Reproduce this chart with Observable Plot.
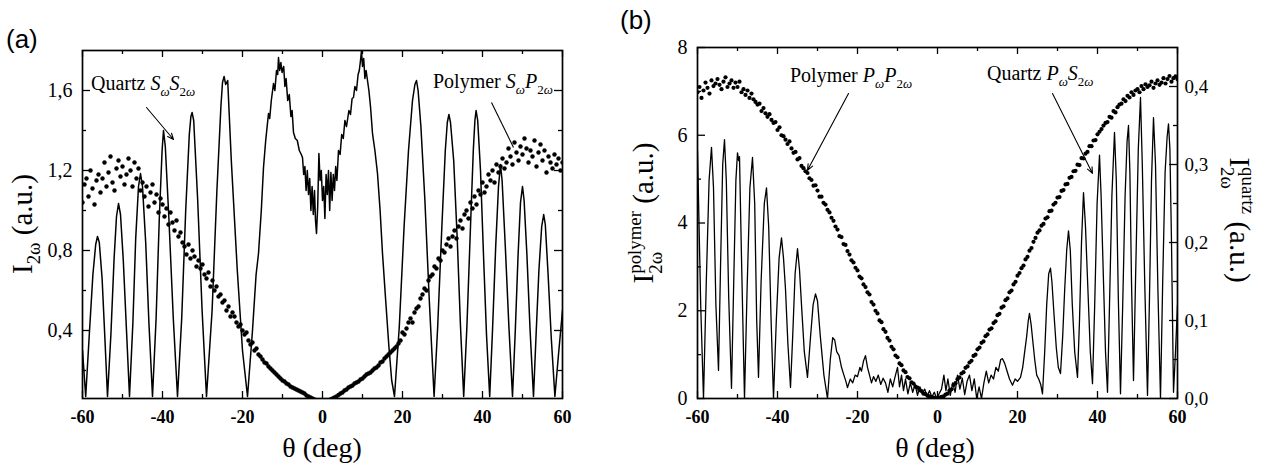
<!DOCTYPE html>
<html><head><meta charset="utf-8">
<script src="https://cdn.jsdelivr.net/npm/d3@7"></script>
<script src="https://cdn.jsdelivr.net/npm/@observablehq/plot@0.6"></script>
<style>
body{margin:0;background:#fff;}
#wrap{position:relative;width:1275px;height:473px;display:flex;background:#fff;}
#wrap svg{flex:0 0 auto;display:block;}
</style></head><body><div id="wrap"></div>
<script>
// ---------------- DATA ----------------
// common scan angles (deg) for the polymer dot series
const scanAngle = [
-60,-59.5,-59,-58.5,-58,-57.5,-57,-56.5,-56,-55.5,
-55,-54.5,-54,-53.5,-53,-52.5,-52,-51.5,-51,-50.5,
-50,-49.5,-49,-48.5,-48,-47.5,-47,-46.5,-46,-45.5,
-45,-44.5,-44,-43.5,-43,-42.5,-42,-41.5,-41,-40.5,
-40,-39.5,-39,-38.5,-38,-37.5,-37,-36.5,-36,-35.5,
-35,-34.5,-34,-33.5,-33,-32.5,-32,-31.5,-31,-30.5,
-30,-29.5,-29,-28.5,-28,-27.5,-27,-26.5,-26,-25.5,
-25,-24.5,-24,-23.5,-23,-22.5,-22,-21.5,-21,-20.5,
-20,-19.5,-19,-18.5,-18,-17.5,-17,-16.5,-16,-15.5,
-15,-14.5,-14,-13.5,-13,-12.5,-12,-11.5,-11,-10.5,
-10,-9.5,-9,-8.5,-8,-7.5,-7,-6.5,-6,-5.5,
-5,-4.5,-4,-3.5,-3,-2.5,-2,-1.5,-1,-0.5,
0,0.5,1,1.5,2,2.5,3,3.5,4,4.5,
5,5.5,6,6.5,7,7.5,8,8.5,9,9.5,
10,10.5,11,11.5,12,12.5,13,13.5,14,14.5,
15,15.5,16,16.5,17,17.5,18,18.5,19,19.5,
20,20.5,21,21.5,22,22.5,23,23.5,24,24.5,
25,25.5,26,26.5,27,27.5,28,28.5,29,29.5,
30,30.5,31,31.5,32,32.5,33,33.5,34,34.5,
35,35.5,36,36.5,37,37.5,38,38.5,39,39.5,
40,40.5,41,41.5,42,42.5,43,43.5,44,44.5,
45,45.5,46,46.5,47,47.5,48,48.5,49,49.5,
50,50.5,51,51.5,52,52.5,53,53.5,54,54.5,
55,55.5,56,56.5,57,57.5,58,58.5,59,59.5,
60];

// (a) Polymer S_w P_2w  (I_2w, a.u.)
const polymerSP = [
1.04,1.13,1.16,1.07,1.20,1.11,1.03,1.15,1.18,1.09,
1.16,1.24,1.12,1.19,1.27,1.14,1.10,1.21,1.25,1.17,
1.22,1.13,1.18,1.26,1.20,1.12,1.24,1.16,1.21,1.10,
1.14,1.07,1.12,1.02,1.09,1.13,1.04,1.08,0.99,1.06,
1.03,0.97,1.01,0.93,0.99,0.94,0.90,0.95,0.87,0.89,
0.84,0.82,0.78,0.83,0.76,0.80,0.77,0.72,0.75,0.71,
0.73,0.68,0.66,0.69,0.62,0.65,0.60,0.62,0.57,0.58,
0.54,0.55,0.50,0.52,0.47,0.49,0.47,0.44,0.42,0.43,
0.40,0.38,0.39,0.35,0.33,0.34,0.30,0.31,0.28,0.27,
0.255,0.24,0.235,0.22,0.21,0.20,0.19,0.18,0.17,0.16,
0.15,0.145,0.135,0.13,0.12,0.115,0.11,0.105,0.10,0.095,
0.09,0.085,0.075,0.07,0.065,0.06,0.055,0.05,0.048,0.045,
0.04,0.042,0.045,0.05,0.055,0.06,0.065,0.07,0.078,0.085,
0.09,0.10,0.105,0.115,0.12,0.125,0.135,0.14,0.145,0.155,
0.16,0.17,0.18,0.185,0.19,0.20,0.21,0.215,0.225,0.24,
0.245,0.26,0.27,0.28,0.29,0.30,0.31,0.32,0.335,0.35,
0.39,0.38,0.41,0.44,0.46,0.44,0.49,0.51,0.52,0.56,
0.58,0.61,0.60,0.65,0.67,0.68,0.72,0.71,0.76,0.75,
0.80,0.79,0.83,0.86,0.82,0.87,0.90,0.86,0.92,0.95,
0.91,0.98,1.00,0.96,1.04,1.01,1.07,1.03,1.10,1.08,
1.14,1.09,1.12,1.18,1.15,1.20,1.14,1.23,1.19,1.22,
1.26,1.21,1.24,1.31,1.27,1.23,1.34,1.29,1.25,1.32,
1.28,1.36,1.31,1.24,1.30,1.27,1.35,1.22,1.29,1.33,
1.25,1.30,1.19,1.27,1.24,1.21,1.28,1.23,1.26,1.20,
1.24];

// (b) Polymer P_w P_2w  (I_2w^polymer, a.u.)
const polymerPP = [
6.98,7.10,6.85,7.02,7.20,7.08,6.95,7.25,7.12,7.18,
7.28,7.15,7.05,7.22,7.32,7.10,7.18,7.25,7.08,7.20,
7.10,7.22,6.98,7.05,6.92,7.02,6.85,6.95,6.82,6.76,
6.70,6.72,6.55,6.62,6.50,6.42,6.48,6.35,6.28,6.30,
6.12,6.18,6.00,5.98,5.90,5.80,5.86,5.70,5.60,5.62,
5.45,5.48,5.30,5.25,5.18,5.14,5.02,4.98,4.85,4.86,
4.74,4.60,4.60,4.46,4.42,4.30,4.24,4.12,4.05,3.92,
3.85,3.70,3.68,3.52,3.50,3.36,3.28,3.15,3.10,2.98,
2.92,2.78,2.74,2.60,2.54,2.42,2.37,2.20,2.14,2.00,
1.94,1.78,1.74,1.58,1.52,1.38,1.32,1.18,1.12,0.98,
0.94,0.80,0.76,0.64,0.60,0.49,0.46,0.37,0.34,0.27,
0.25,0.19,0.17,0.11,0.10,0.06,0.05,0.03,0.02,0.01,
0.00,0.02,0.04,0.05,0.09,0.11,0.18,0.21,0.31,0.35,
0.44,0.48,0.57,0.60,0.70,0.73,0.82,0.86,0.97,1.00,
1.12,1.16,1.27,1.30,1.42,1.46,1.57,1.60,1.72,1.76,
1.90,1.93,2.07,2.10,2.24,2.28,2.42,2.46,2.60,2.66,
2.80,2.86,2.97,3.03,3.17,3.23,3.37,3.43,3.57,3.66,
3.78,3.83,3.94,3.98,4.10,4.13,4.27,4.28,4.42,4.46,
4.58,4.59,4.73,4.75,4.88,4.89,5.03,5.05,5.18,5.19,
5.33,5.32,5.48,5.47,5.58,5.62,5.75,5.75,5.88,5.89,
6.02,6.08,6.14,6.22,6.28,6.30,6.42,6.40,6.55,6.52,
6.64,6.70,6.72,6.82,6.78,6.90,6.86,6.98,6.92,7.02,
7.05,6.98,7.12,7.05,7.16,7.10,7.14,7.22,7.08,7.18,
7.25,7.15,7.20,7.30,7.18,7.28,7.35,7.22,7.30,7.34,
7.28];

// (a) Quartz S_w S_2w fringes: [theta, I_2w]
const quartzSS = [
[-60,0.30],[-59.2,0.07],[-58.3,0.38],[-57.4,0.68],[-56.7,0.83],[-56.25,0.87],[-55.8,0.84],[-55.1,0.66],[-54.4,0.36],[-53.75,0.07],
[-52.9,0.38],[-52.1,0.76],[-51.5,0.97],[-51.0,1.035],[-50.5,0.98],[-49.8,0.75],[-49.0,0.40],[-48.25,0.07],
[-47.4,0.44],[-46.7,0.86],[-46.0,1.12],[-45.5,1.185],[-45.0,1.12],[-44.2,0.84],[-43.4,0.44],[-42.5,0.07],
[-41.6,0.46],[-40.8,0.96],[-40.1,1.30],[-39.75,1.40],[-39.3,1.32],[-38.4,0.96],[-37.3,0.46],[-36.25,0.07],
[-35.2,0.46],[-34.2,1.00],[-33.3,1.38],[-32.9,1.47],[-32.6,1.49],[-32.2,1.45],[-31.2,1.05],[-30.1,0.50],[-29.0,0.07],
[-27.6,0.50],[-26.4,1.10],[-25.4,1.52],[-25.0,1.64],[-24.6,1.67],[-24.2,1.63],[-23.7,1.65],[-22.8,1.25],[-21.3,0.70],[-20.0,0.30],[-18.75,0.07],
[-17.5,0.40],[-16.6,0.68],[-16.0,0.785],[-15.3,1.00],[-14.75,1.215],[-14.2,1.35],[-13.5,1.485],[-13.2,1.46],[-12.8,1.55],[-12.25,1.635],
[-11.9,1.60],[-11.5,1.70],[-11.2,1.68],[-11.0,1.765],[-10.7,1.70],[-10.4,1.74],[-10.1,1.69],[-9.7,1.72],[-9.4,1.62],[-9.1,1.66],
[-8.7,1.55],[-8.3,1.58],[-7.9,1.47],[-7.6,1.50],[-7.25,1.39],[-6.8,1.36],[-6.3,1.35],[-5.8,1.30],[-5.3,1.28],[-5.0,1.265],
[-4.7,1.18],[-4.4,1.22],[-4.1,1.10],[-3.8,1.20],[-3.5,1.08],[-3.2,1.16],[-2.9,1.00],[-2.6,1.12],[-2.3,0.98],[-2.0,1.10],
[-1.75,0.95],[-1.5,0.885],[-1.2,1.02],[-0.9,1.285],[-0.6,1.15],[-0.3,1.20],[0.0,1.05],[0.3,1.12],[0.6,0.96],[0.9,1.18],
[1.2,1.08],[1.5,1.20],[1.8,1.00],[2.1,1.19],[2.4,1.05],[2.7,1.18],[3.0,1.10],[3.3,1.22],[3.6,1.15],[4.0,1.30],
[4.4,1.28],[4.8,1.38],[5.2,1.36],[5.6,1.45],[6.0,1.42],[6.3,1.46],[6.6,1.50],[7.0,1.48],[7.4,1.56],[7.75,1.565],
[8.1,1.62],[8.5,1.60],[8.9,1.68],[9.2,1.70],[9.5,1.75],[9.75,1.80],[10.0,1.72],[10.3,1.76],[10.6,1.66],[10.9,1.70],
[11.25,1.65],[11.6,1.60],[12.0,1.52],[12.5,1.385],[13.1,1.30],[13.75,1.185],[14.4,1.00],[15.0,0.785],[15.8,0.55],[16.6,0.32],[17.3,0.15],[18.0,0.07],
[19.2,0.42],[20.4,0.92],[21.5,1.30],[22.5,1.55],[23.1,1.63],[23.5,1.65],[23.9,1.60],[24.6,1.42],[25.6,1.05],[26.7,0.55],[27.9,0.07],
[28.8,0.42],[29.8,0.90],[30.7,1.30],[31.2,1.44],[31.6,1.48],[32.0,1.44],[32.8,1.25],[33.7,0.85],[34.5,0.42],[35.3,0.07],
[36.1,0.42],[37.0,0.92],[37.7,1.30],[38.1,1.45],[38.4,1.50],[38.8,1.45],[39.5,1.20],[40.3,0.75],[41.0,0.38],[41.8,0.07],
[42.5,0.40],[43.3,0.82],[44.0,1.12],[44.5,1.23],[44.9,1.15],[45.7,0.82],[46.6,0.42],[47.5,0.07],
[48.2,0.40],[48.9,0.78],[49.5,1.04],[50.0,1.12],[50.4,1.05],[51.1,0.78],[51.9,0.40],[52.75,0.07],
[53.4,0.38],[54.1,0.70],[54.8,0.92],[55.3,0.98],[55.7,0.93],[56.4,0.68],[57.2,0.36],[58.1,0.07],
[59.0,0.28],[60.0,0.50]];

// (b) Quartz P_w S_2w fringes: [theta, I_2w^quartz]
const quartzPS = [
[-60,0.318],[-59.2,0.12],[-58.5,0.0],[-57.8,0.15],[-57.1,0.28],[-56.5,0.322],[-56.0,0.27],[-55.4,0.12],[-54.75,0.036],
[-54.2,0.18],[-53.7,0.30],[-53.25,0.332],[-52.8,0.28],[-52.2,0.13],[-51.5,0.013],[-50.9,0.16],[-50.4,0.28],[-50.0,0.315],
[-49.7,0.305],[-49.5,0.31],[-49.0,0.18],[-48.25,0.0],[-47.6,0.14],[-46.9,0.27],[-46.25,0.309],[-45.7,0.25],[-45.2,0.10],
[-44.75,0.027],[-44.1,0.15],[-43.3,0.25],[-42.75,0.27],[-42.2,0.22],[-41.6,0.10],[-41.0,0.0],[-40.3,0.10],[-39.6,0.18],
[-39.0,0.206],[-38.5,0.18],[-38.0,0.14],[-37.4,0.07],[-36.75,0.014],[-36.2,0.08],[-35.6,0.16],[-35.0,0.192],[-34.5,0.165],
[-34.0,0.12],[-33.3,0.06],[-32.5,0.027],[-31.8,0.075],[-31.1,0.12],[-30.5,0.134],[-30.0,0.125],[-29.3,0.08],[-28.4,0.03],
[-27.5,0.0],[-26.8,0.05],[-26.2,0.078],[-25.7,0.075],[-25.2,0.06],[-24.6,0.055],[-24.0,0.04],[-23.4,0.03],[-22.9,0.022],
[-22.5,0.014],[-21.8,0.025],[-21.2,0.02],[-20.6,0.03],[-20.0,0.028],[-19.4,0.04],[-19.0,0.035],[-18.5,0.048],[-18.0,0.055],
[-17.5,0.04],[-17.0,0.03],[-16.5,0.02],[-16.0,0.028],[-15.4,0.022],[-14.8,0.03],[-14.2,0.018],[-13.6,0.026],[-13.0,0.02],
[-12.4,0.008],[-11.8,0.025],[-11.2,0.015],[-10.6,0.028],[-10.0,0.04],[-9.5,0.015],[-9.0,0.03],[-8.5,0.01],[-8.0,0.025],
[-7.4,0.006],[-6.8,0.02],[-6.2,0.008],[-5.6,0.018],[-5.0,0.004],[-4.4,0.015],[-3.8,0.006],[-3.2,0.012],[-2.6,0.003],
[-2.0,0.01],[-1.4,0.002],[-0.8,0.008],[-0.2,0.0],[0.4,0.006],[1.0,0.012],[1.6,0.03],[2.1,0.01],[2.6,0.025],[3.2,0.004],
[3.8,0.02],[4.4,0.008],[5.0,0.03],[5.6,0.012],[6.2,0.026],[6.8,0.005],[7.4,0.022],[8.0,0.03],[8.6,0.01],[9.2,0.025],
[9.8,0.0],[10.4,0.015],[11.0,0.0],[11.6,0.02],[12.2,0.035],[12.8,0.02],[13.4,0.03],[14.0,0.025],[14.6,0.04],[15.2,0.035],
[15.8,0.05],[16.25,0.051],[16.8,0.045],[17.4,0.035],[18.0,0.025],[18.75,0.017],[19.4,0.025],[20.0,0.022],[20.75,0.027],
[21.3,0.04],[21.8,0.06],[22.3,0.08],[22.7,0.10],[23.0,0.109],[23.4,0.095],[23.8,0.075],[24.3,0.05],[24.8,0.03],[25.3,0.025],
[25.8,0.018],[26.25,0.006],[26.8,0.06],[27.3,0.12],[27.8,0.16],[28.25,0.167],[28.6,0.15],[29.1,0.11],[29.7,0.065],[30.2,0.04],
[30.75,0.032],[31.3,0.08],[31.8,0.14],[32.3,0.19],[32.75,0.215],[33.2,0.19],[33.7,0.12],[34.3,0.06],[35.0,0.027],[35.5,0.10],
[36.0,0.20],[36.5,0.264],[37.0,0.22],[37.6,0.14],[38.2,0.06],[38.75,0.019],[39.3,0.12],[39.9,0.25],[40.5,0.312],[40.9,0.26],
[41.5,0.15],[42.0,0.06],[42.5,0.008],[43.0,0.12],[43.6,0.26],[44.25,0.341],[44.7,0.28],[45.2,0.13],[45.75,0.006],[46.3,0.12],
[46.9,0.26],[47.4,0.33],[47.75,0.35],[48.1,0.29],[48.5,0.15],[49.0,0.023],[49.5,0.15],[50.2,0.32],[50.75,0.386],[51.2,0.30],
[51.8,0.15],[52.5,0.004],[53.0,0.13],[53.5,0.28],[54.0,0.36],[54.5,0.30],[55.1,0.14],[55.75,0.0],[56.3,0.15],[56.9,0.29],
[57.4,0.335],[57.75,0.352],[58.1,0.32],[58.5,0.20],[59.0,0.008],[59.5,0.06],[60.0,0.12]];

// axes
const thetaDomain = [-60, 60];
const xMajorTicks = [-60,-40,-20,0,20,40,60];
const xMinorTicks = [-50,-30,-10,10,30,50];
const aYDomain = [0.06, 1.8];
const aYMajorTicks = [0.4,0.8,1.2,1.6];
const aYMinorTicks = [0.2,0.6,1.0,1.4];
const bLeftDomain = [0, 8];
const bLeftMajorTicks = [0,2,4,6,8];
const bLeftMinorTicks = [1,3,5,7];
const bRightDomain = [0, 0.45];
const bRightMajorTicks = [0,0.1,0.2,0.3,0.4];
const bRightMinorTicks = [0.05,0.15,0.25,0.35];

// annotations (data units)
const annA = [
  {x:-57.75, y:1.60, parts:[{t:"Quartz "},{t:"S",i:1},{t:"ω",i:1,sub:1},{t:"S",i:1},{t:"2",sub:1},{t:"ω",i:1,sub:1}]},
  {x:27.75, y:1.61, parts:[{t:"Polymer "},{t:"S",i:1},{t:"ω",i:1,sub:1},{t:"P",i:1},{t:"2",sub:1},{t:"ω",i:1,sub:1}]}
];
const arrowsA = [{x1:-44, y1:1.515, x2:-37.25, y2:1.355}];
const linksA = [{x1:42.25, y1:1.54, x2:47.75, y2:1.315}];
const annB = [
  {x:-36.75, y:7.2, parts:[{t:"Polymer "},{t:"P",i:1},{t:"ω",i:1,sub:1},{t:"P",i:1},{t:"2",sub:1},{t:"ω",i:1,sub:1}]},
  {x:12.5, y:7.25, parts:[{t:"Quartz "},{t:"P",i:1},{t:"ω",i:1,sub:1},{t:"S",i:1},{t:"2",sub:1},{t:"ω",i:1,sub:1}]}
];
const arrowsB = [{x1:-22.25, y1:6.95, x2:-32.5, y2:5.2},{x1:28.75, y1:6.95, x2:38.75, y2:5.13}];

// ---------------- DRAW ----------------
const SERIF = "Liberation Serif, Times New Roman, Times, serif";
const SANS = "Liberation Sans, Arial, Helvetica, sans-serif";
const comma1 = d => d.toFixed(1).replace(".", ",");
const polyAData = scanAngle.map((t,i)=>({t, v: polymerSP[i]}));
const polyBData = scanAngle.map((t,i)=>({t, v: polymerPP[i]}));
const qAData = quartzSS.map(([t,v])=>({t,v}));
const k = bLeftDomain[1] / bRightDomain[1];           // right-axis -> left-axis factor
const qBData = quartzPS.map(([t,q])=>({t, v: q*k}));

const A = {w:620, h:473, top:50, right:58, bottom:75, left:82};
const B = {w:655, h:473, top:47, right:98, bottom:75, left:77};
const aIH = A.h-A.top-A.bottom, aIW = A.w-A.left-A.right;
const bIH = B.h-B.top-B.bottom, bIW = B.w-B.left-B.right;

const tickStyle = {stroke:"black", strokeWidth:1.3};
function xTicks(IH){
  return [
    Plot.tickX(xMajorTicks, {x:d=>d, insetTop:IH-7, ...tickStyle}),
    Plot.tickX(xMinorTicks, {x:d=>d, insetTop:IH-4, ...tickStyle}),
    Plot.tickX(xMajorTicks, {x:d=>d, insetBottom:IH-7, ...tickStyle}),
    Plot.tickX(xMinorTicks, {x:d=>d, insetBottom:IH-4, ...tickStyle}),
    Plot.axisX({ticks:xMajorTicks, tickSize:0, tickPadding:12, tickFormat:d=>String(d), fontFamily:SERIF, fontWeight:"bold", fontSize:18, label:null})
  ];
}

const plotA = Plot.plot({
  width:A.w, height:A.h, marginTop:A.top, marginRight:A.right, marginBottom:A.bottom, marginLeft:A.left,
  x:{domain:thetaDomain}, y:{domain:aYDomain},
  style:{fontFamily:SERIF, fontSize:"20px", color:"black", background:"white", overflow:"visible"},
  marks:[
    Plot.line(qAData, {x:"t", y:"v", stroke:"black", strokeWidth:1.5, clip:true}),
    Plot.dot(polyAData, {x:"t", y:"v", r:2.2, fill:"black", stroke:"none", clip:true}),
    Plot.frame({stroke:"black", strokeWidth:1.7}),
    ...xTicks(aIH),
    Plot.tickY(aYMajorTicks, {y:d=>d, insetRight:aIW-8, ...tickStyle}),
    Plot.tickY(aYMinorTicks, {y:d=>d, insetRight:aIW-4, ...tickStyle}),
    Plot.tickY(aYMajorTicks, {y:d=>d, insetLeft:aIW-8, ...tickStyle}),
    Plot.tickY(aYMinorTicks, {y:d=>d, insetLeft:aIW-4, ...tickStyle}),
    Plot.axisY({ticks:aYMajorTicks, tickSize:0, tickPadding:10, tickFormat:comma1, fontFamily:SERIF, fontSize:20, label:null}),
    Plot.arrow(arrowsA, {x1:"x1", y1:"y1", x2:"x2", y2:"y2", stroke:"black", strokeWidth:1.1, headLength:9, headAngle:45}),
    Plot.link(linksA, {x1:"x1", y1:"y1", x2:"x2", y2:"y2", stroke:"black", strokeWidth:1.1})
  ]
});

const plotB = Plot.plot({
  width:B.w, height:B.h, marginTop:B.top, marginRight:B.right, marginBottom:B.bottom, marginLeft:B.left,
  x:{domain:thetaDomain}, y:{domain:bLeftDomain},
  style:{fontFamily:SERIF, fontSize:"20px", color:"black", background:"white", overflow:"visible"},
  marks:[
    Plot.line(qBData, {x:"t", y:"v", stroke:"black", strokeWidth:1.3, clip:true}),
    Plot.dot(polyBData, {x:"t", y:"v", r:2.1, fill:"black", stroke:"none", clip:true}),
    Plot.frame({stroke:"black", strokeWidth:1.7}),
    ...xTicks(bIH),
    Plot.tickY(bLeftMajorTicks, {y:d=>d, insetRight:bIW-8, ...tickStyle}),
    Plot.tickY(bLeftMinorTicks, {y:d=>d, insetRight:bIW-4, ...tickStyle}),
    Plot.tickY(bRightMajorTicks.map(q=>q*k), {y:d=>d, insetLeft:bIW-8, ...tickStyle}),
    Plot.tickY(bRightMinorTicks.map(q=>q*k), {y:d=>d, insetLeft:bIW-4, ...tickStyle}),
    Plot.axisY({ticks:bLeftMajorTicks, tickSize:0, tickPadding:10, tickFormat:d=>String(d), fontFamily:SERIF, fontSize:20, label:null}),
    Plot.axisY({anchor:"right", ticks:bRightMajorTicks.map(q=>q*k), tickSize:0, tickPadding:7, tickFormat:d=>comma1(d/k), fontFamily:SERIF, fontSize:19, label:null}),
    Plot.arrow(arrowsB, {x1:"x1", y1:"y1", x2:"x2", y2:"y2", stroke:"black", strokeWidth:1.1, headLength:9, headAngle:45})
  ]
});

const wrap = document.getElementById("wrap");
wrap.appendChild(plotA);
wrap.appendChild(plotB);

// rich text helper (sub/superscripts, stacked sup+sub)
function rich(svgNode, parts, {x=0, y=0, size=20, rotate=0, center=false}){
  const g = d3.select(svgNode).append("g");
  const t = g.append("text").attr("font-family", SERIF).attr("font-size", size)
    .attr("fill", "black").attr("text-anchor", "start");
  let shift = 0;
  const small = size*0.65;
  for (const p of parts){
    if (p.stack){
      const subOff = size*0.32, supOff = -size*0.42;
      const s1 = t.append("tspan").text(p.stack[1]).attr("font-size", small).attr("dy", subOff-shift);
      shift = subOff;
      const w = s1.node().getComputedTextLength();
      t.append("tspan").text(p.stack[0]).attr("font-size", small).attr("dx", -w).attr("dy", supOff-shift);
      shift = supOff;
      continue;
    }
    const target = p.sub ? size*0.28 : (p.sup ? -size*0.42 : 0);
    const s = t.append("tspan").text(p.t);
    if (target-shift) s.attr("dy", target-shift);
    shift = target;
    if (p.sub || p.sup) s.attr("font-size", small);
    if (p.i) s.attr("font-style", "italic");
  }
  if (center){
    const bb = t.node().getBBox();
    t.attr("transform", `translate(${-(bb.x + bb.width/2)},0)`);
  }
  g.attr("transform", `translate(${x},${y})${rotate ? ` rotate(${rotate})` : ""}`);
  return g;
}

// annotations placed through the plots' own scales
const sxA = plotA.scale("x"), syA = plotA.scale("y");
for (const a of annA) rich(plotA, a.parts, {x:sxA.apply(a.x), y:syA.apply(a.y), size:20});
const sxB = plotB.scale("x"), syB = plotB.scale("y");
for (const a of annB) rich(plotB, a.parts, {x:sxB.apply(a.x), y:syB.apply(a.y), size:20});

// axis titles
rich(plotA, [{t:"θ (deg)"}], {x:A.left+aIW/2, y:457, size:28, center:true});
rich(plotB, [{t:"θ (deg)"}], {x:B.left+bIW/2-2, y:457, size:28, center:true});
rich(plotA, [{t:"I"},{t:"2ω",sub:1},{t:" (a.u.)"}], {x:32, y:224, size:29, rotate:-90, center:true});
rich(plotB, [{t:"I"},{stack:["polymer","2ω"]},{t:" (a.u.)"}], {x:33, y:213, size:29, rotate:-90, center:true});
rich(plotB, [{t:"I"},{stack:["quartz","2ω"]},{t:" (a.u.)"}], {x:610, y:220, size:29, rotate:90, center:true});

// panel letters
d3.select(plotA).append("text").attr("x",6).attr("y",48).attr("text-anchor","start").attr("font-family",SANS).attr("font-size",26).attr("fill","black").text("(a)");
d3.select(plotB).append("text").attr("x",0).attr("y",29).attr("text-anchor","start").attr("font-family",SANS).attr("font-size",26).attr("fill","black").text("(b)");
</script></body></html>
